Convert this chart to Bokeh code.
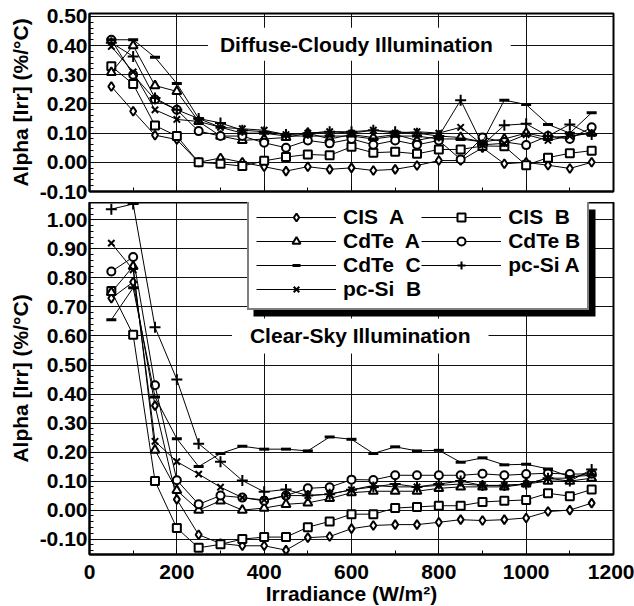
from bokeh.plotting import figure
from bokeh.layouts import column
from bokeh.models import (Range1d, SingleIntervalTicker, NumeralTickFormatter,
                          CustomJSTickFormatter, Label, Legend, LegendItem, BoxAnnotation)
from bokeh.embed import file_html
from bokeh.resources import INLINE

# ---------------- data ----------------
irradiance = [50, 100, 150, 200, 250, 300, 350, 400, 450, 500, 550, 600,
              650, 700, 750, 800, 850, 900, 950, 1000, 1050, 1100, 1150]

series_names = ["CIS  A", "CIS  B", "CdTe  A", "CdTe B", "CdTe  C", "pc-Si A", "pc-Si  B"]

# Diffuse-Cloudy illumination
dc_cis_a = [0.26, 0.175, 0.093, 0.078, 0.00, 0.015, 0.00, -0.015, -0.030, -0.015, -0.024, -0.019,
            -0.028, -0.024, -0.011, 0.006, 0.006, 0.05, -0.005, 0.00, -0.01, -0.021, 0.00]
dc_cis_b = [0.329, 0.268, 0.126, 0.09, 0.00, -0.005, -0.013, 0.005, 0.018, 0.027, 0.024, 0.053,
            0.033, 0.036, 0.029, 0.044, 0.044, 0.056, 0.055, -0.01, 0.016, 0.031, 0.04]
dc_cdte_a = [0.308, 0.40, 0.263, 0.243, 0.14, 0.09, 0.075, 0.08, 0.085, 0.10, 0.08, 0.095,
             0.085, 0.095, 0.075, 0.09, 0.085, 0.07, 0.08, 0.10, 0.085, 0.09, 0.10]
dc_cdte_b = [0.42, 0.30, 0.215, 0.18, 0.107, 0.09, 0.09, 0.067, 0.05, 0.075, 0.065, 0.08,
             0.06, 0.075, 0.06, 0.075, 0.01, 0.085, 0.07, 0.059, 0.09, 0.08, 0.12]
dc_cdte_c = [0.42, 0.42, 0.36, 0.27, 0.15, 0.12, 0.10, 0.10, 0.09, 0.09, 0.09, 0.09,
             0.08, 0.09, 0.09, 0.08, 0.08, 0.07, 0.213, 0.198, 0.13, 0.10, 0.17]
dc_pcsi_a = [0.41, 0.363, 0.22, 0.18, 0.15, 0.135, 0.11, 0.105, 0.095, 0.10, 0.105, 0.105,
             0.11, 0.105, 0.10, 0.09, 0.213, 0.06, 0.127, 0.132, 0.09, 0.13, 0.095]
dc_pcsi_b = [0.397, 0.31, 0.18, 0.147, 0.14, 0.12, 0.115, 0.11, 0.095, 0.10, 0.105, 0.10,
             0.11, 0.10, 0.105, 0.10, 0.12, 0.06, 0.065, 0.095, 0.075, 0.09, 0.10]

# Clear-Sky illumination
cs_cis_a = [0.73, 0.786, 0.36, 0.037, -0.085, -0.115, -0.123, -0.123, -0.138, -0.095, -0.091, -0.064,
            -0.053, -0.05, -0.05, -0.042, -0.033, -0.036, -0.033, -0.027, -0.005, 0.0, 0.024]
cs_cis_b = [0.755, 0.604, 0.10, -0.062, -0.13, -0.118, -0.10, -0.093, -0.093, -0.059, -0.039, -0.014,
            -0.014, 0.007, 0.011, 0.015, 0.015, 0.028, 0.032, 0.035, 0.058, 0.048, 0.071]
cs_cdte_a = [0.75, 0.84, 0.207, 0.068, 0.0, 0.032, 0.0, 0.007, 0.02, 0.025, 0.04, 0.06,
             0.065, 0.065, 0.065, 0.075, 0.08, 0.08, 0.08, 0.09, 0.10, 0.10, 0.11]
cs_cdte_b = [0.822, 0.872, 0.43, 0.103, 0.02, 0.05, 0.043, 0.032, 0.05, 0.075, 0.079, 0.105,
             0.104, 0.12, 0.12, 0.12, 0.12, 0.125, 0.12, 0.124, 0.127, 0.124, 0.125]
cs_cdte_c = [0.656, 0.766, 0.39, 0.246, 0.15, 0.195, 0.22, 0.21, 0.21, 0.204, 0.252, 0.244,
             0.195, 0.218, 0.204, 0.206, 0.165, 0.18, 0.156, 0.158, 0.142, 0.115, 0.12]
cs_pcsi_a = [1.037, 1.055, 0.63, 0.45, 0.229, 0.167, 0.102, 0.063, 0.071, 0.05, 0.055, 0.07,
             0.08, 0.09, 0.08, 0.09, 0.10, 0.085, 0.085, 0.09, 0.11, 0.10, 0.14]
cs_pcsi_b = [0.92, 0.828, 0.237, 0.167, 0.124, 0.079, 0.043, 0.035, 0.05, 0.05, 0.055, 0.07,
             0.085, 0.08, 0.08, 0.085, 0.09, 0.085, 0.085, 0.09, 0.11, 0.11, 0.13]

dc_series = [dc_cis_a, dc_cis_b, dc_cdte_a, dc_cdte_b, dc_cdte_c, dc_pcsi_a, dc_pcsi_b]
cs_series = [cs_cis_a, cs_cis_b, cs_cdte_a, cs_cdte_b, cs_cdte_c, cs_pcsi_a, cs_pcsi_b]

markers = ["diamond", "square", "triangle", "circle", "dash", "cross", "x"]
msizes = [9, 8, 9, 8, 10, 11, 9]
mwidths = [2, 2, 2, 2, 3, 2, 2]

FONT = "Liberation Sans"
FS = "21px"
YLABEL = "Alpha [Irr] (%/°C)"

x_range = Range1d(0, 1200)


def style(p):
    p.background_fill_color = "white"
    p.border_fill_color = "white"
    p.outline_line_color = "black"
    p.outline_line_width = 2
    for ax in p.xaxis + p.yaxis:
        ax.axis_line_width = 2
        ax.axis_line_color = "black"
        ax.major_tick_in = 6
        ax.major_tick_out = 0
        ax.minor_tick_in = 4
        ax.minor_tick_out = 0
        ax.major_tick_line_width = 1
        ax.minor_tick_line_width = 1
        ax.major_label_text_font = FONT
        ax.major_label_text_font_style = "bold"
        ax.major_label_text_font_size = FS
        ax.major_label_text_color = "black"
        ax.axis_label_text_font = FONT
        ax.axis_label_text_font_style = "bold"
        ax.axis_label_text_font_size = FS
        ax.axis_label_text_color = "black"
    p.xaxis.ticker = SingleIntervalTicker(interval=200, num_minor_ticks=2)
    p.yaxis.ticker = SingleIntervalTicker(interval=0.1, num_minor_ticks=5)
    p.yaxis.formatter = NumeralTickFormatter(format="0.00")
    p.yaxis.major_label_standoff = 2
    p.yaxis.axis_label = YLABEL
    p.yaxis.axis_label_standoff = 5
    p.xgrid.grid_line_color = "#111111"
    p.ygrid.grid_line_color = "#111111"
    p.xgrid.grid_line_width = 1
    p.ygrid.grid_line_width = 1


def draw(p, data):
    items = []
    for name, ys, mk, ms, mw in zip(series_names, data, markers, msizes, mwidths):
        lr = p.line(irradiance, ys, line_color="black", line_width=1)
        sr = p.scatter(irradiance, ys, marker=mk, size=ms, line_color="black",
                       line_width=mw, fill_color="white")
        items.append(LegendItem(label=name, renderers=[lr, sr]))
    return items


# ---------------- top panel ----------------
p1 = figure(frame_width=524, frame_height=178, x_range=x_range, y_range=Range1d(-0.10, 0.51),
            output_backend="svg", toolbar_location=None,
            min_border_left=89, min_border_right=21, min_border_top=13, min_border_bottom=11)
style(p1)
p1.xaxis.formatter = CustomJSTickFormatter(code="return ''")
p1.xaxis.major_label_standoff = 0
draw(p1, dc_series)
p1.add_layout(Label(x=618, y=0.405, text="Diffuse-Cloudy  Illumination",
                    text_align="center", text_baseline="middle",
                    text_font=FONT, text_font_style="bold", text_font_size=FS,
                    text_color="black", background_fill_color="white",
                    padding=dict(left=12, right=12, top=5, bottom=5)))

# ---------------- bottom panel ----------------
p2 = figure(frame_width=524, frame_height=352, x_range=x_range, y_range=Range1d(-0.153, 1.06),
            output_backend="svg", toolbar_location=None,
            min_border_left=89, min_border_right=21, min_border_top=0, min_border_bottom=40)
style(p2)
p2.xaxis.axis_label = "Irradiance (W/m²)"
p2.xaxis.major_label_standoff = 10
p2.xaxis.axis_label_standoff = 0
items = draw(p2, cs_series)
p2.add_layout(Label(x=620, y=0.60, text="Clear-Sky Illumination",
                    text_align="center", text_baseline="middle",
                    text_font=FONT, text_font_style="bold", text_font_size=FS,
                    text_color="black", background_fill_color="white",
                    padding=dict(left=18, right=18, top=6, bottom=6)))

# legend drop shadow (decoration, canvas pixel units)
p2.add_layout(BoxAnnotation(left=253, right=595, top=7, bottom=114,
                            left_units="canvas", right_units="canvas",
                            top_units="canvas", bottom_units="canvas",
                            fill_color="black", fill_alpha=1.0, line_alpha=0))

legend = Legend(items=items, location=(158, 244), orientation="horizontal", ncols=2,
                border_line_color="black", border_line_width=2,
                background_fill_color="white", background_fill_alpha=1.0,
                label_text_font=FONT, label_text_font_style="bold",
                label_text_font_size="21px", label_text_color="black",
                glyph_width=80, glyph_height=20, label_height=20,
                label_standoff=7, spacing=0, padding=7, margin=0)
p2.add_layout(legend, "center")

layout = column(p1, p2, spacing=0)

open("out.html", "w").write(file_html(layout, INLINE))
